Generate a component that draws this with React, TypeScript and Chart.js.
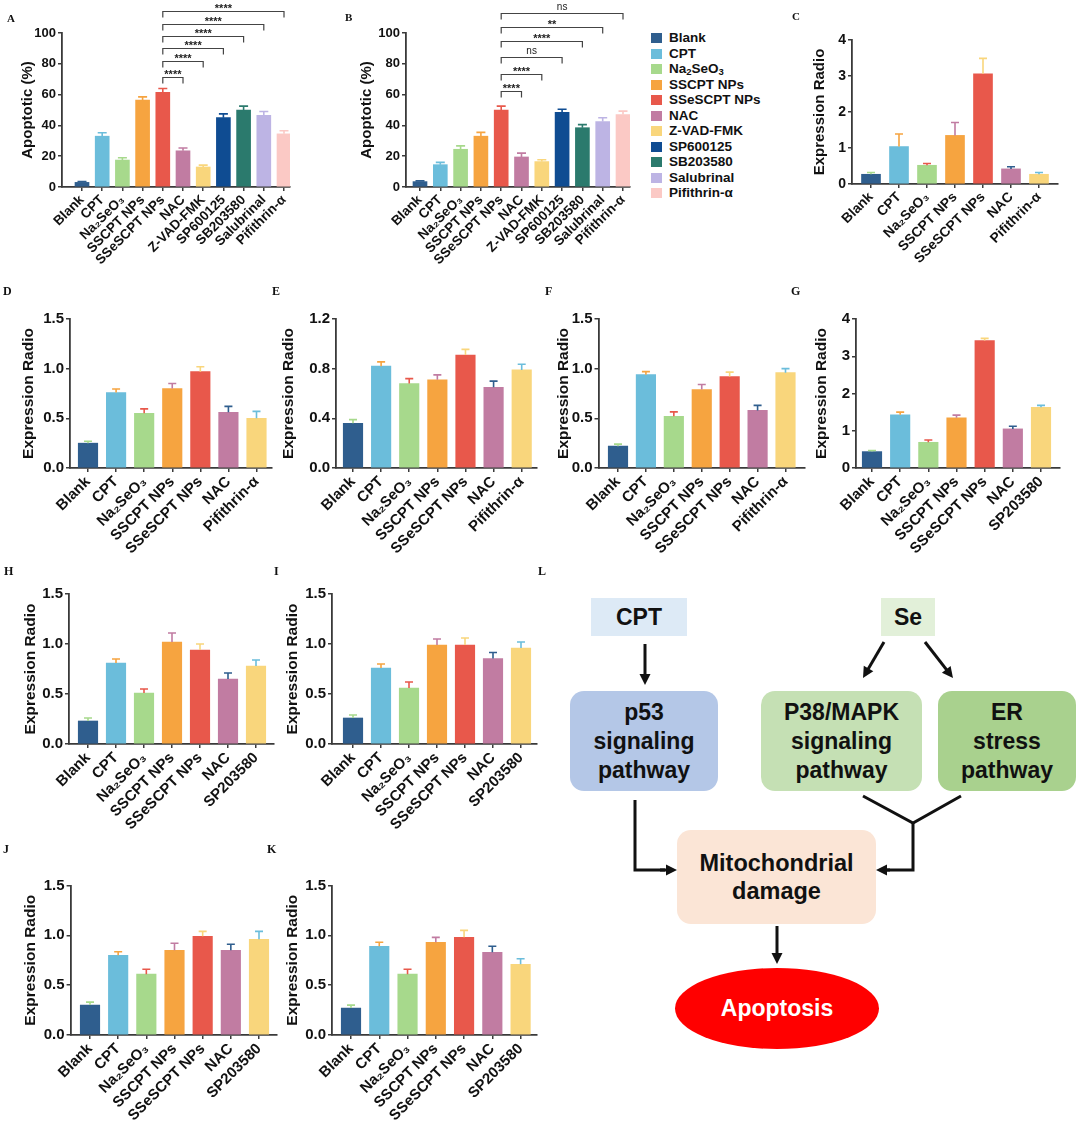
import React, { useEffect, useRef } from "react";
import { Chart, registerables } from "chart.js";

Chart.register(...registerables);

const FONT = "'Liberation Sans', Arial, Helvetica, sans-serif";
const SERIF = "'Liberation Serif', 'Times New Roman', serif";
const AXIS = "#3a3a3a";

// ---------------- Data ----------------
const categoriesAB = ["Blank", "CPT", "Na₂SeO₃", "SSCPT NPs", "SSeSCPT NPs", "NAC", "Z-VAD-FMK", "SP600125", "SB203580", "Salubrinal", "Pifithrin-α"];
const categoriesPif = ["Blank", "CPT", "Na₂SeO₃", "SSCPT NPs", "SSeSCPT NPs", "NAC", "Pifithrin-α"];
const categoriesSB = ["Blank", "CPT", "Na₂SeO₃", "SSCPT NPs", "SSeSCPT NPs", "NAC", "SP203580"];

const colorsAB = ["#2f5e8e", "#6bbddb", "#a7d98c", "#f6a440", "#e8584b", "#c17ca2", "#f9d67c", "#0f4c92", "#2b7a6d", "#bdb4e4", "#fbc9c5"];
const colors7 = ["#2f5e8e", "#6bbddb", "#a7d98c", "#f6a440", "#e8584b", "#c17ca2", "#f9d67c"];
const errColors7 = ["#a7d98c", "#f6a440", "#e8584b", "#c17ca2", "#f9d67c", "#2f5e8e", "#6bbddb"];

const valuesA = [3, 33, 17.5, 56.5, 61.5, 23.5, 13, 45, 50, 46.5, 34.5];
const errorsA = [0.6, 2.2, 1.5, 2.0, 2.5, 1.8, 1.2, 2.5, 2.5, 2.5, 2.0];
const bracketTargetsA = [5, 6, 7, 8, 9, 10];
const bracketHeightsA = [71.5, 82, 90, 98, 106, 114];
const bracketLabelsA = ["****", "****", "****", "****", "****", "****"];

const valuesB = [3.5, 14.5, 24.5, 33, 50, 19.5, 16.5, 48.5, 38.5, 42.5, 47];
const errorsB = [0.5, 1.5, 2.2, 2.5, 2.5, 2.5, 1.2, 2.0, 2.0, 2.5, 2.3];
const bracketTargetsB = [5, 6, 7, 8, 9, 10];
const bracketHeightsB = [62.5, 73.5, 84.5, 94.5, 104, 113];
const bracketLabelsB = ["****", "****", "ns", "****", "**", "ns"];

const valuesC = [0.27, 1.04, 0.52, 1.35, 3.06, 0.42, 0.27];
const errorsC = [0.05, 0.35, 0.05, 0.36, 0.43, 0.06, 0.05];
const valuesD = [0.25, 0.76, 0.55, 0.8, 0.97, 0.56, 0.5];
const errorsD = [0.02, 0.035, 0.045, 0.05, 0.05, 0.06, 0.07];
const valuesE = [0.36, 0.82, 0.68, 0.71, 0.91, 0.65, 0.79];
const errorsE = [0.03, 0.035, 0.04, 0.04, 0.045, 0.05, 0.045];
const valuesF = [0.22, 0.94, 0.52, 0.79, 0.92, 0.58, 0.96];
const errorsF = [0.02, 0.03, 0.045, 0.05, 0.045, 0.05, 0.04];
const valuesG = [0.44, 1.43, 0.69, 1.35, 3.42, 1.05, 1.63];
const errorsG = [0.03, 0.07, 0.06, 0.07, 0.06, 0.07, 0.05];
const valuesH = [0.23, 0.81, 0.51, 1.02, 0.94, 0.65, 0.78];
const errorsH = [0.03, 0.04, 0.04, 0.09, 0.06, 0.06, 0.06];
const valuesI = [0.26, 0.76, 0.56, 0.99, 0.99, 0.855, 0.96];
const errorsI = [0.03, 0.04, 0.06, 0.06, 0.07, 0.06, 0.06];
const valuesJ = [0.3, 0.8, 0.61, 0.85, 0.99, 0.85, 0.96];
const errorsJ = [0.03, 0.035, 0.05, 0.07, 0.05, 0.06, 0.08];
const valuesK = [0.27, 0.89, 0.61, 0.93, 0.98, 0.83, 0.71];
const errorsK = [0.03, 0.04, 0.05, 0.05, 0.07, 0.06, 0.055];

const ticksPercent = [0, 20, 40, 60, 80, 100];
const ticks4 = [0, 1, 2, 3, 4];
const ticks15 = [0, 0.5, 1.0, 1.5];
const ticks12 = [0, 0.4, 0.8, 1.2];

const legendNames = ["Blank", "CPT", "Na2SeO3", "SSCPT NPs", "SSeSCPT NPs", "NAC", "Z-VAD-FMK", "SP600125", "SB203580", "Salubrinal", "Pifithrin-α"];

// ---------------- Types ----------------
type Box = { x: number; y: number; w: number; h: number };
type Plot = { l: number; r: number; t: number; b: number; first: number; last: number };
type Spec = {
  labels: string[];
  values: number[];
  errors: number[];
  colors: string[];
  errColors: string[];
  yTicks: number[];
  decimals: number;
  yTitle: string;
  box: Box;
  plot: Plot;
  titleX: number;
  barW: number;
  capW: number;
  tickSize: number;
  xSize: number;
  titleSize: number;
  brackets?: { from: number; to: number[]; heights: number[]; labels: string[] };
};

const bigRow = { tickSize: 15, xSize: 15, titleSize: 15.5, barW: 19.5, capW: 8 };

const specs: Spec[] = [
  {
    labels: categoriesAB, values: valuesA, errors: errorsA, colors: colorsAB, errColors: colorsAB,
    yTicks: ticksPercent, decimals: 0, yTitle: "Apoptotic (%)",
    box: { x: 0, y: 0, w: 300, h: 272 }, plot: { l: 62, r: 290, t: 33, b: 187, first: 82, last: 284 },
    titleX: 28, barW: 14, capW: 9, tickSize: 13, xSize: 13.5, titleSize: 15,
    brackets: { from: 4, to: bracketTargetsA, heights: bracketHeightsA, labels: bracketLabelsA },
  },
  {
    labels: categoriesAB, values: valuesB, errors: errorsB, colors: colorsAB, errColors: colorsAB,
    yTicks: ticksPercent, decimals: 0, yTitle: "Apoptotic (%)",
    box: { x: 340, y: 0, w: 295, h: 272 }, plot: { l: 406, r: 630, t: 33, b: 187, first: 420, last: 623 },
    titleX: 367, barW: 14, capW: 9, tickSize: 13, xSize: 13.5, titleSize: 15,
    brackets: { from: 4, to: bracketTargetsB, heights: bracketHeightsB, labels: bracketLabelsB },
  },
  {
    labels: categoriesPif, values: valuesC, errors: errorsC, colors: colors7, errColors: errColors7,
    yTicks: ticks4, decimals: 0, yTitle: "Expression Radio",
    box: { x: 790, y: 0, w: 285, h: 272 }, plot: { l: 852, r: 1058, t: 40, b: 184, first: 871, last: 1039 },
    titleX: 820, barW: 19, capW: 8, tickSize: 14, xSize: 13.8, titleSize: 15,
  },
  {
    labels: categoriesPif, values: valuesD, errors: errorsD, colors: colors7, errColors: errColors7,
    yTicks: ticks15, decimals: 1, yTitle: "Expression Radio",
    box: { x: 0, y: 280, w: 280, h: 290 }, plot: { l: 70, r: 272, t: 319, b: 468, first: 88, last: 256.5 },
    titleX: 29, ...bigRow,
  },
  {
    labels: categoriesPif, values: valuesE, errors: errorsE, colors: colors7, errColors: errColors7,
    yTicks: ticks12, decimals: 1, yTitle: "Expression Radio",
    box: { x: 270, y: 280, w: 272, h: 290 }, plot: { l: 336, r: 537, t: 319, b: 468, first: 353, last: 521.7 },
    titleX: 289, ...bigRow,
  },
  {
    labels: categoriesPif, values: valuesF, errors: errorsF, colors: colors7, errColors: errColors7,
    yTicks: ticks15, decimals: 1, yTitle: "Expression Radio",
    box: { x: 540, y: 280, w: 270, h: 290 }, plot: { l: 598.5, r: 804.5, t: 319, b: 468, first: 618, last: 785.5 },
    titleX: 564, ...bigRow,
  },
  {
    labels: categoriesSB, values: valuesG, errors: errorsG, colors: colors7, errColors: errColors7,
    yTicks: ticks4, decimals: 0, yTitle: "Expression Radio",
    box: { x: 800, y: 280, w: 275, h: 290 }, plot: { l: 856, r: 1060, t: 319, b: 468, first: 872, last: 1041 },
    titleX: 822, ...bigRow,
  },
  {
    labels: categoriesSB, values: valuesH, errors: errorsH, colors: colors7, errColors: errColors7,
    yTicks: ticks15, decimals: 1, yTitle: "Expression Radio",
    box: { x: 0, y: 562, w: 280, h: 285 }, plot: { l: 69, r: 274, t: 594, b: 744, first: 88, last: 256 },
    titleX: 31, ...bigRow,
  },
  {
    labels: categoriesSB, values: valuesI, errors: errorsI, colors: colors7, errColors: errColors7,
    yTicks: ticks15, decimals: 1, yTitle: "Expression Radio",
    box: { x: 270, y: 562, w: 272, h: 285 }, plot: { l: 332, r: 537, t: 594, b: 744, first: 353, last: 521 },
    titleX: 293, ...bigRow,
  },
  {
    labels: categoriesSB, values: valuesJ, errors: errorsJ, colors: colors7, errColors: errColors7,
    yTicks: ticks15, decimals: 1, yTitle: "Expression Radio",
    box: { x: 0, y: 850, w: 280, h: 271 }, plot: { l: 70.6, r: 277, t: 885.5, b: 1035, first: 90, last: 259 },
    titleX: 31, ...bigRow,
  },
  {
    labels: categoriesSB, values: valuesK, errors: errorsK, colors: colors7, errColors: errColors7,
    yTicks: ticks15, decimals: 1, yTitle: "Expression Radio",
    box: { x: 270, y: 850, w: 272, h: 271 }, plot: { l: 332, r: 537, t: 885.5, b: 1035, first: 351, last: 520.6 },
    titleX: 293, ...bigRow,
  },
];

// ---------------- Plugins ----------------
function errPlugin(s: Spec) {
  return {
    id: "errBars",
    afterDatasetsDraw(chart: any) {
      const { ctx } = chart;
      const xs = chart.scales.x;
      const ys = chart.scales.y;
      ctx.save();
      ctx.lineWidth = 1.6;
      s.values.forEach((v, i) => {
        const x = xs.getPixelForValue(i);
        const y0 = ys.getPixelForValue(v);
        const y1 = ys.getPixelForValue(v + s.errors[i]);
        ctx.strokeStyle = s.errColors[i];
        ctx.beginPath();
        ctx.moveTo(x, y0);
        ctx.lineTo(x, y1);
        ctx.moveTo(x - s.capW / 2, y1);
        ctx.lineTo(x + s.capW / 2, y1);
        ctx.stroke();
      });
      ctx.restore();
    },
  };
}

function bracketPlugin(s: Spec) {
  return {
    id: "sigBrackets",
    afterDraw(chart: any) {
      const br = s.brackets!;
      const { ctx } = chart;
      const xs = chart.scales.x;
      const ys = chart.scales.y;
      ctx.save();
      ctx.strokeStyle = "#444";
      ctx.fillStyle = "#222";
      ctx.lineWidth = 1.2;
      ctx.textAlign = "center";
      ctx.textBaseline = "bottom";
      br.to.forEach((t, k) => {
        const x1 = xs.getPixelForValue(br.from);
        const x2 = xs.getPixelForValue(t);
        const y = Math.round(ys.getPixelForValue(br.heights[k])) + 0.5;
        ctx.beginPath();
        ctx.moveTo(x1, y + 6);
        ctx.lineTo(x1, y);
        ctx.lineTo(x2, y);
        ctx.lineTo(x2, y + 6);
        ctx.stroke();
        const lab = br.labels[k];
        if (lab === "ns") {
          ctx.font = `10px ${FONT}`;
          ctx.fillText(lab, (x1 + x2) / 2, y - 1);
        } else {
          ctx.font = `bold 11px ${FONT}`;
          ctx.fillText(lab, (x1 + x2) / 2, y + 3);
        }
      });
      ctx.restore();
    },
  };
}

function buildConfig(s: Spec): any {
  const n = s.labels.length;
  const step = (s.plot.last - s.plot.first) / (n - 1);
  const xMin = -(s.plot.first - s.plot.l) / step;
  const xMax = n - 1 + (s.plot.r - s.plot.last) / step;
  const titleLH = s.titleSize * 1.2;
  const plugins: any[] = [errPlugin(s)];
  if (s.brackets) plugins.push(bracketPlugin(s));
  const grid = {
    display: true,
    drawOnChartArea: false,
    drawTicks: true,
    tickLength: 4,
    tickWidth: 1.5,
    color: AXIS,
    lineWidth: 1.5,
    offset: false,
  };
  const border = { display: true, color: AXIS, width: 1.8 };
  return {
    type: "bar",
    data: {
      datasets: [
        {
          data: s.values.map((v, i) => ({ x: i, y: v })),
          backgroundColor: s.colors,
          borderWidth: 0,
          barThickness: s.barW,
        },
      ],
    },
    options: {
      responsive: false,
      animation: false,
      devicePixelRatio: 1,
      events: [],
      layout: {
        padding: { left: 0, top: s.plot.t - s.box.y, right: s.box.x + s.box.w - s.plot.r, bottom: 0 },
      },
      plugins: { legend: { display: false }, tooltip: { enabled: false } },
      scales: {
        x: {
          type: "linear",
          min: xMin,
          max: xMax,
          offset: false,
          afterBuildTicks: (sc: any) => {
            sc.ticks = s.labels.map((_, i) => ({ value: i }));
          },
          ticks: {
            autoSkip: false,
            minRotation: 45,
            maxRotation: 45,
            padding: 1,
            color: "#111",
            font: { family: FONT, size: s.xSize, weight: "bold" },
            callback: (_v: any, i: number) => s.labels[i],
          },
          grid,
          border,
          afterFit: (sc: any) => {
            sc.height = s.box.y + s.box.h - s.plot.b;
            sc.paddingLeft = 0;
            sc.paddingRight = 0;
          },
        },
        y: {
          type: "linear",
          min: 0,
          max: s.yTicks[s.yTicks.length - 1],
          afterBuildTicks: (sc: any) => {
            sc.ticks = s.yTicks.map((v) => ({ value: v }));
          },
          ticks: {
            padding: 2,
            color: "#111",
            font: { family: FONT, size: s.tickSize, weight: "bold" },
            callback: (v: any) => Number(v).toFixed(s.decimals),
          },
          grid,
          border,
          title: {
            display: true,
            text: s.yTitle,
            color: "#111",
            font: { family: FONT, size: s.titleSize, weight: "bold" },
            padding: { top: s.titleX - s.box.x - titleLH / 2, bottom: 0 },
          },
          afterFit: (sc: any) => {
            sc.width = s.plot.l - s.box.x;
            sc.paddingTop = 0;
            sc.paddingBottom = 0;
          },
        },
      },
    },
    plugins,
  };
}

function BarPanel({ s }: { s: Spec }) {
  const ref = useRef<HTMLCanvasElement>(null);
  useEffect(() => {
    const chart = new Chart(ref.current as HTMLCanvasElement, buildConfig(s));
    return () => chart.destroy();
  }, [s]);
  return (
    <canvas
      ref={ref}
      width={s.box.w}
      height={s.box.h}
      style={{ position: "absolute", left: s.box.x, top: s.box.y, width: s.box.w, height: s.box.h }}
    />
  );
}

// ---------------- Layout bits ----------------
const panelLetters: [string, number, number, number][] = [
  ["A", 7, 13, 11], ["B", 345, 12, 11], ["C", 792, 11, 11],
  ["D", 3, 285, 12], ["E", 272, 285, 12], ["F", 545, 285, 12], ["G", 791, 285, 12],
  ["H", 4, 565, 12], ["I", 274, 565, 12], ["L", 538, 565, 12],
  ["J", 3, 843, 12], ["K", 267, 843, 12],
];

type FlowBox = { lines: string[]; x: number; y: number; w: number; h: number; bg: string; r: number; size: number; lh: number };
const flowBoxes: FlowBox[] = [
  { lines: ["CPT"], x: 591, y: 598, w: 96, h: 38, bg: "#ddeaf6", r: 0, size: 23, lh: 28 },
  { lines: ["Se"], x: 881, y: 598, w: 54, h: 38, bg: "#e2f0d9", r: 0, size: 23, lh: 28 },
  { lines: ["p53", "signaling", "pathway"], x: 570, y: 691, w: 148, h: 100, bg: "#b4c7e7", r: 14, size: 23, lh: 29 },
  { lines: ["P38/MAPK", "signaling", "pathway"], x: 761, y: 691, w: 161, h: 100, bg: "#c5e0b4", r: 14, size: 23, lh: 29 },
  { lines: ["ER", "stress", "pathway"], x: 938, y: 691, w: 138, h: 100, bg: "#a9d18e", r: 14, size: 23, lh: 29 },
  { lines: ["Mitochondrial", "damage"], x: 677, y: 830, w: 199, h: 94, bg: "#fbe5d6", r: 14, size: 23.5, lh: 28 },
];

function Arrow({ x1, y1, x2, y2 }: { x1: number; y1: number; x2: number; y2: number }) {
  const len = 11;
  const half = 5.5;
  const dx = x2 - x1;
  const dy = y2 - y1;
  const d = Math.hypot(dx, dy);
  const ux = dx / d;
  const uy = dy / d;
  const bx = x2 - ux * len;
  const by = y2 - uy * len;
  const px = -uy * half;
  const py = ux * half;
  return (
    <g>
      <line x1={x1} y1={y1} x2={bx + ux * 1} y2={by + uy * 1} stroke="#111" strokeWidth={3} />
      <polygon points={`${x2},${y2} ${bx + px},${by + py} ${bx - px},${by - py}`} fill="#111" />
    </g>
  );
}

function Legend() {
  return (
    <>
      {legendNames.map((name, i) => {
        const cy = 38 + 15.5 * i;
        return (
          <div
            key={name}
            style={{ position: "absolute", left: 651, top: cy - 8, height: 16, display: "flex", alignItems: "center", whiteSpace: "nowrap" }}
          >
            <div style={{ width: 11, height: 10, background: colorsAB[i], marginRight: 7 }} />
            <span style={{ font: `bold 13.5px ${FONT}`, color: "#111", lineHeight: "16px" }}>
              {name === "Na2SeO3" ? (
                <>
                  Na<sub style={{ fontSize: 9.5, verticalAlign: -2, lineHeight: 0 }}>2</sub>SeO<sub style={{ fontSize: 9.5, verticalAlign: -2, lineHeight: 0 }}>3</sub>
                </>
              ) : (
                name
              )}
            </span>
          </div>
        );
      })}
    </>
  );
}

function Flowchart() {
  return (
    <>
      {flowBoxes.map((b) => (
        <div
          key={b.lines.join("-")}
          style={{
            position: "absolute", left: b.x, top: b.y, width: b.w, height: b.h, background: b.bg,
            borderRadius: b.r, display: "flex", flexDirection: "column", alignItems: "center", justifyContent: "center",
            font: `bold ${b.size}px ${FONT}`, lineHeight: `${b.lh}px`, color: "#111", textAlign: "center",
          }}
        >
          {b.lines.map((l) => (
            <div key={l}>{l}</div>
          ))}
        </div>
      ))}
      <div
        style={{
          position: "absolute", left: 675, top: 968, width: 204, height: 81, borderRadius: "50%", background: "#ff0000",
          display: "flex", alignItems: "center", justifyContent: "center", font: `bold 23px ${FONT}`, color: "#fff",
        }}
      >
        Apoptosis
      </div>
      <svg width={1080} height={1121} style={{ position: "absolute", left: 0, top: 0, pointerEvents: "none" }}>
        <Arrow x1={645} y1={644} x2={645} y2={685} />
        <Arrow x1={884} y1={642} x2={863} y2={678} />
        <Arrow x1={925} y1={642} x2={953} y2={678} />
        <polyline points="863,796 913,823 961,796" fill="none" stroke="#111" strokeWidth={3} strokeLinejoin="miter" />
        <polyline points="913,822 913,870 885,870" fill="none" stroke="#111" strokeWidth={3} />
        <Arrow x1={890} y1={870} x2={876} y2={870} />
        <polyline points="635,800 635,870 665,870" fill="none" stroke="#111" strokeWidth={3} />
        <Arrow x1={660} y1={870} x2={677} y2={870} />
        <Arrow x1={777} y1={926} x2={777} y2={964} />
      </svg>
    </>
  );
}

export default function App() {
  return (
    <div style={{ position: "absolute", left: 0, top: 0, width: 1080, height: 1121, background: "#fff", overflow: "hidden" }}>
      {specs.map((s, i) => (
        <BarPanel key={i} s={s} />
      ))}
      <Legend />
      {panelLetters.map(([t, x, y, sz]) => (
        <div
          key={t}
          style={{ position: "absolute", left: x, top: y, font: `bold ${sz}px ${SERIF}`, lineHeight: `${sz}px`, color: "#111" }}
        >
          {t}
        </div>
      ))}
      <Flowchart />
    </div>
  );
}
